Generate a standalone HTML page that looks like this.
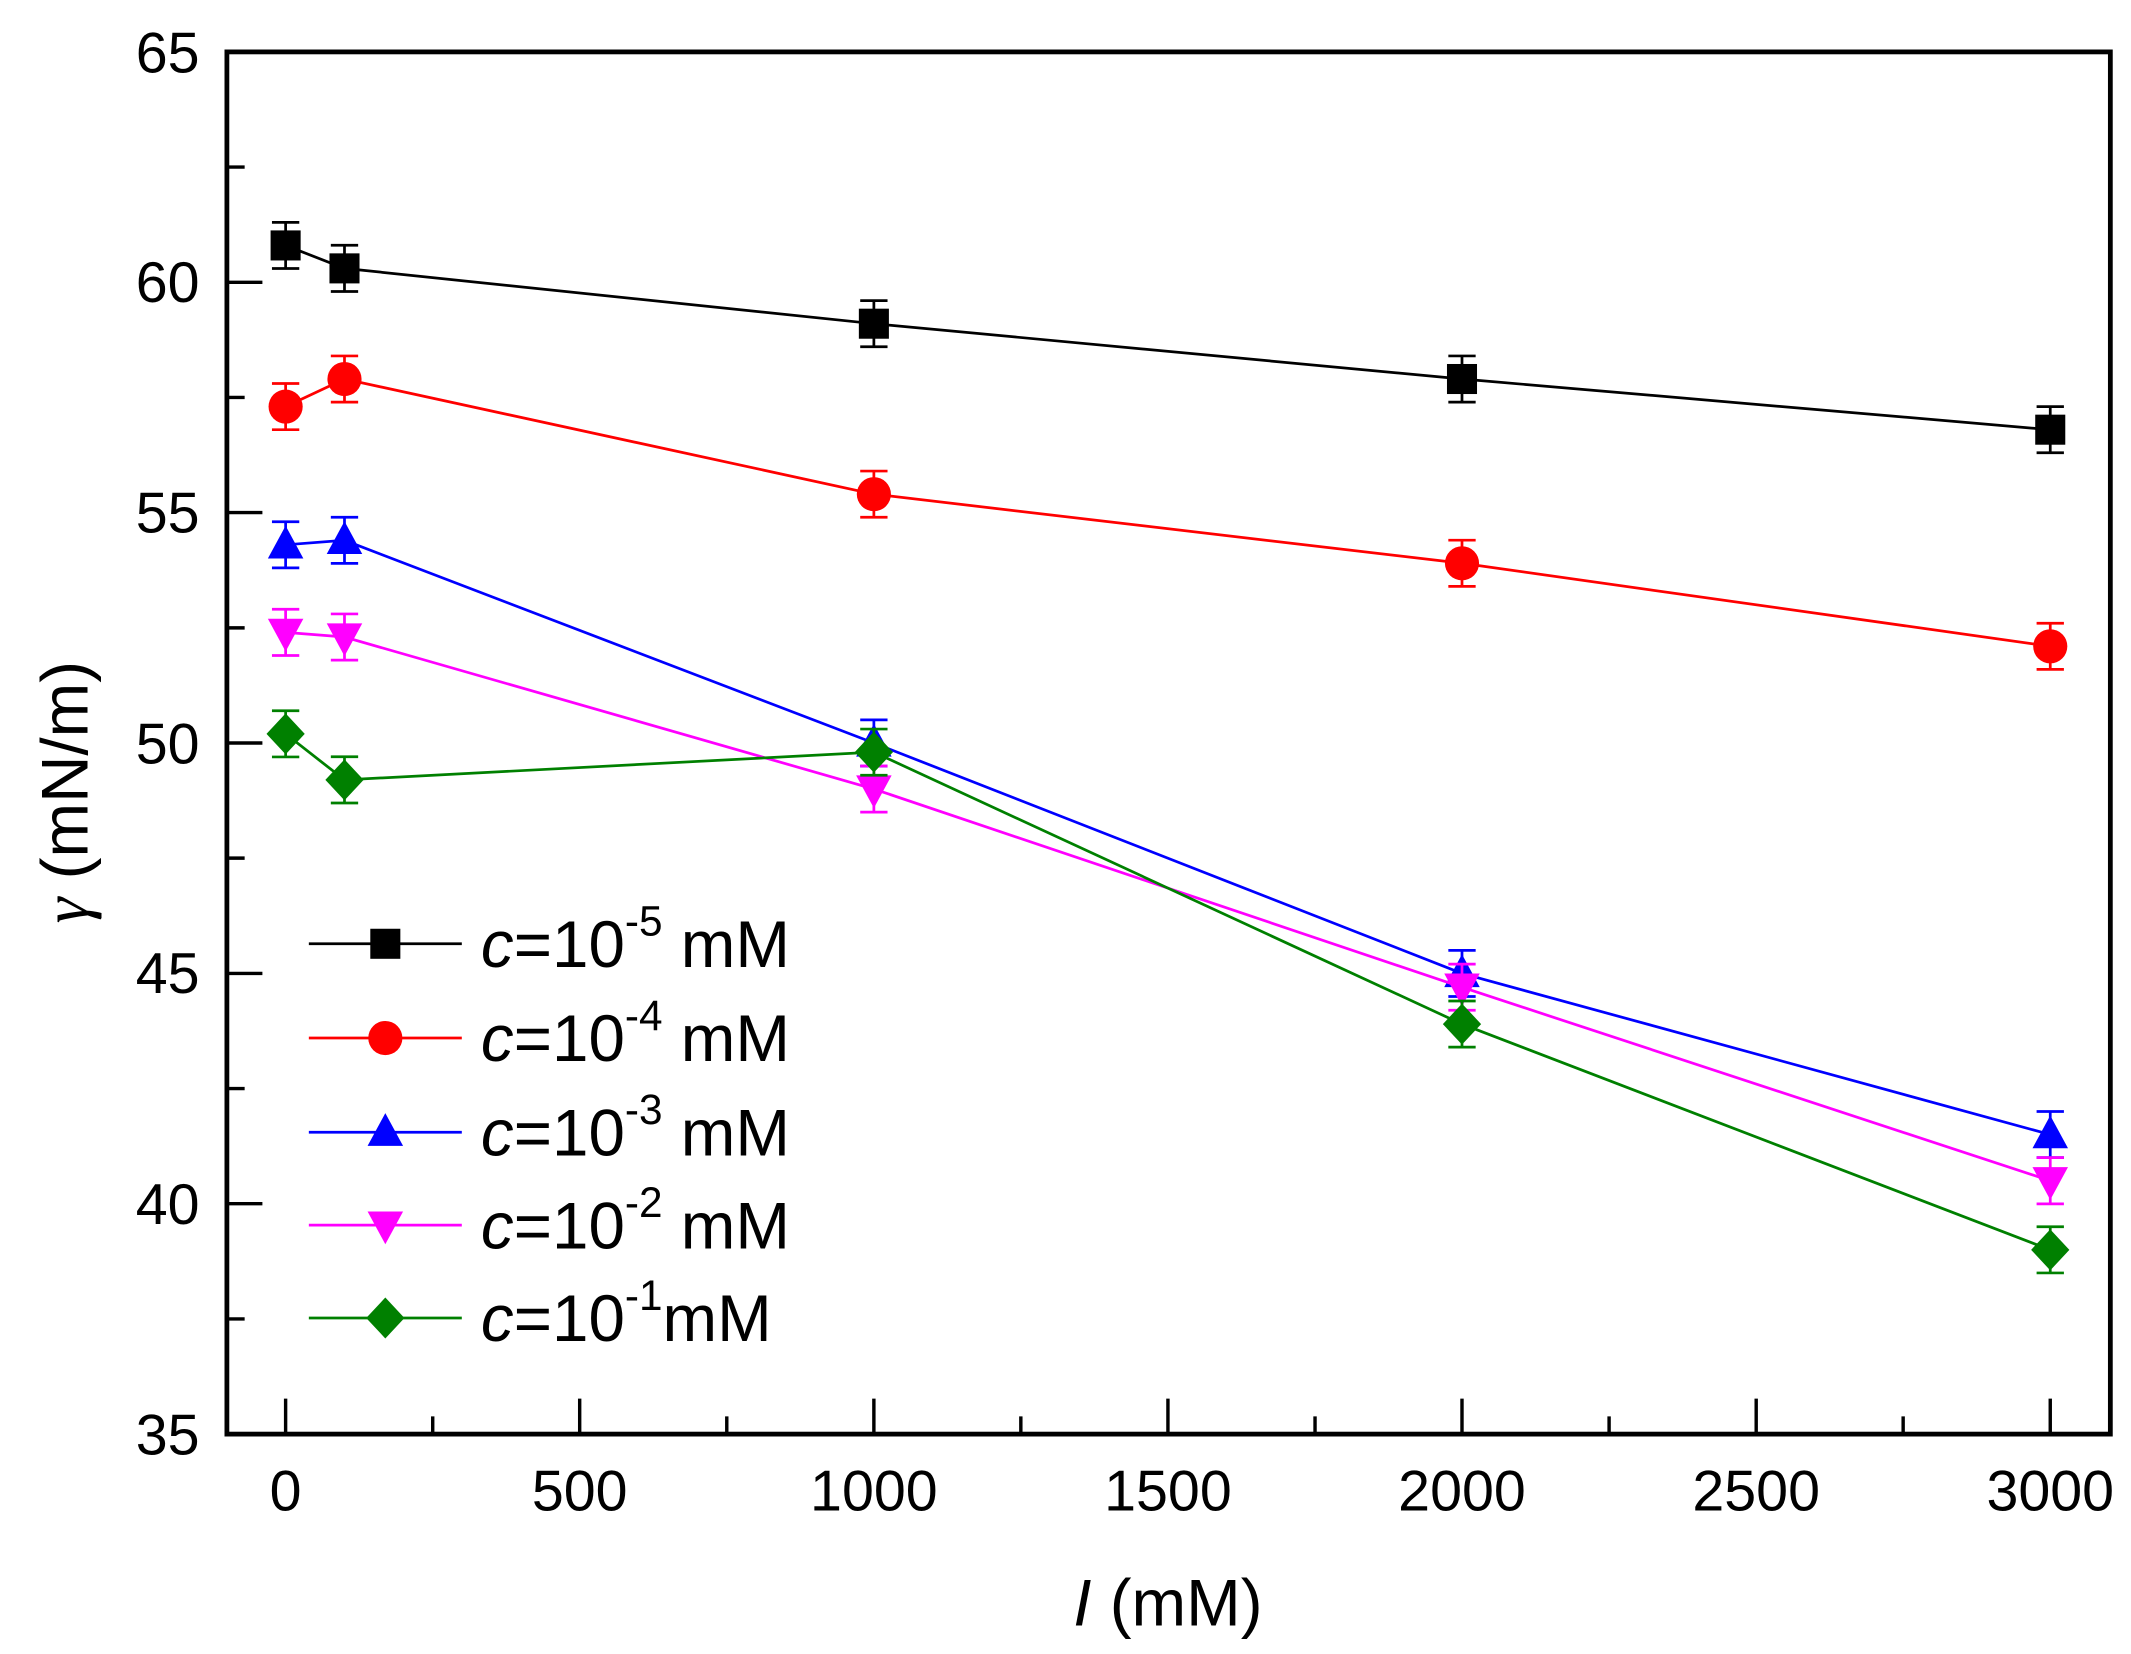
<!DOCTYPE html>
<html><head><meta charset="utf-8"><style>html,body{margin:0;padding:0;background:#fff}svg{display:block}</style></head>
<body>
<svg width="2131" height="1654" viewBox="0 0 1560 1211" xmlns="http://www.w3.org/2000/svg" font-family="Liberation Sans, Arial, sans-serif">
<defs>
<rect id="sq" x="-11" y="-11" width="22" height="22"/>
<circle id="ci" r="12.5"/>
<path id="tu" d="M0,-14 L13,10 L-13,10 Z"/>
<path id="td" d="M0,14 L13,-10 L-13,-10 Z"/>
<path id="di" d="M0,-15 L14,0 L0,15 L-14,0 Z"/>
</defs>
<rect x="166" y="38" width="1379" height="1012" fill="none" stroke="#000" stroke-width="3.5"/>
<g stroke="#000" stroke-width="2.5">
<path d="M166,881.3h26M166,712.7h26M166,544h26M166,375.3h26M166,206.7h26"/>
<path d="M166,965.7h13M166,797h13M166,628.3h13M166,459.7h13M166,291h13M166,122.3h13"/>
<path d="M209,1050v-26M424.3,1050v-26M639.7,1050v-26M855,1050v-26M1070.3,1050v-26M1285.7,1050v-26M1501,1050v-26"/>
<path d="M316.7,1050v-13M532,1050v-13M747.3,1050v-13M962.7,1050v-13M1178,1050v-13M1393.3,1050v-13"/>
</g>
<g font-size="42" text-anchor="end" fill="#000">
<text x="146" y="1065">35</text><text x="146" y="896">40</text><text x="146" y="727">45</text><text x="146" y="559">50</text><text x="146" y="390">55</text><text x="146" y="221">60</text><text x="146" y="53">65</text>
</g>
<g font-size="42" text-anchor="middle" fill="#000">
<text x="209" y="1106">0</text><text x="424.3" y="1106">500</text><text x="639.7" y="1106">1000</text><text x="855" y="1106">1500</text><text x="1070.3" y="1106">2000</text><text x="1285.7" y="1106">2500</text><text x="1501" y="1106">3000</text>
</g>
<text x="855" y="1190" font-size="48" text-anchor="middle"><tspan font-style="italic">I</tspan> (mM)</text>
<text transform="translate(64,580) rotate(-90)" font-size="48" text-anchor="middle"><tspan font-family="Liberation Serif, serif" font-style="italic">γ</tspan> (mN/m)</text>

<g stroke="#000" fill="#000">
<polyline fill="none" stroke-width="2" points="209,179.7 252.1,196.5 639.7,237 1070.3,277.5 1501,314.6"/>
<g stroke-width="2" fill="none">
<path d="M209,162.8v33.8M199,162.8h20M199,196.6h20"/>
<path d="M252.1,179.6v33.8M242.1,179.6h20M242.1,213.4h20"/>
<path d="M639.7,220.1v33.8M629.7,220.1h20M629.7,253.9h20"/>
<path d="M1070.3,260.6v33.8M1060.3,260.6h20M1060.3,294.4h20"/>
<path d="M1501,297.7v33.8M1491,297.7h20M1491,331.5h20"/>
</g>
<g stroke="none"><use href="#sq" x="209" y="179.7"/><use href="#sq" x="252.1" y="196.5"/><use href="#sq" x="639.7" y="237"/><use href="#sq" x="1070.3" y="277.5"/><use href="#sq" x="1501" y="314.6"/></g>
</g>
<g stroke="#f00" fill="#f00">
<polyline fill="none" stroke-width="2" points="209,297.7 252.1,277.5 639.7,361.8 1070.3,412.4 1501,473.2"/>
<g stroke-width="2" fill="none">
<path d="M209,280.8v33.8M199,280.8h20M199,314.6h20"/>
<path d="M252.1,260.6v33.8M242.1,260.6h20M242.1,294.4h20"/>
<path d="M639.7,344.9v33.8M629.7,344.9h20M629.7,378.7h20"/>
<path d="M1070.3,395.5v33.8M1060.3,395.5h20M1060.3,429.3h20"/>
<path d="M1501,456.3v33.8M1491,456.3h20M1491,490.1h20"/>
</g>
<g stroke="none"><use href="#ci" x="209" y="297.7"/><use href="#ci" x="252.1" y="277.5"/><use href="#ci" x="639.7" y="361.8"/><use href="#ci" x="1070.3" y="412.4"/><use href="#ci" x="1501" y="473.2"/></g>
</g>
<g stroke="#00f" fill="#00f">
<polyline fill="none" stroke-width="2" points="209,398.9 252.1,395.6 639.7,544 1070.3,712.7 1501,830.7"/>
<g stroke-width="2" fill="none">
<path d="M209,382v33.8M199,382h20M199,415.8h20"/>
<path d="M252.1,378.7v33.8M242.1,378.7h20M242.1,412.5h20"/>
<path d="M639.7,527.1v33.8M629.7,527.1h20M629.7,560.9h20"/>
<path d="M1070.3,695.8v33.8M1060.3,695.8h20M1060.3,729.6h20"/>
<path d="M1501,813.8v33.8M1491,813.8h20M1491,847.6h20"/>
</g>
<g stroke="none"><use href="#tu" x="209" y="398.9"/><use href="#tu" x="252.1" y="395.6"/><use href="#tu" x="639.7" y="544"/><use href="#tu" x="1070.3" y="712.7"/><use href="#tu" x="1501" y="830.7"/></g>
</g>
<g stroke="#f0f" fill="#f0f">
<polyline fill="none" stroke-width="2" points="209,463 252.1,466.4 639.7,577.7 1070.3,722.8 1501,864.5"/>
<g stroke-width="2" fill="none">
<path d="M209,446.1v33.8M199,446.1h20M199,479.9h20"/>
<path d="M252.1,449.5v33.8M242.1,449.5h20M242.1,483.3h20"/>
<path d="M639.7,560.8v33.8M629.7,560.8h20M629.7,594.6h20"/>
<path d="M1070.3,705.9v33.8M1060.3,705.9h20M1060.3,739.7h20"/>
<path d="M1501,847.6v33.8M1491,847.6h20M1491,881.4h20"/>
</g>
<g stroke="none"><use href="#td" x="209" y="463"/><use href="#td" x="252.1" y="466.4"/><use href="#td" x="639.7" y="577.7"/><use href="#td" x="1070.3" y="722.8"/><use href="#td" x="1501" y="864.5"/></g>
</g>
<g stroke="#008000" fill="#008000">
<polyline fill="none" stroke-width="2" points="209,537.3 252.1,571 639.7,550.7 1070.3,749.8 1501,915.1"/>
<g stroke-width="2" fill="none">
<path d="M209,520.4v33.8M199,520.4h20M199,554.2h20"/>
<path d="M252.1,554.1v33.8M242.1,554.1h20M242.1,587.9h20"/>
<path d="M639.7,533.8v33.8M629.7,533.8h20M629.7,567.6h20"/>
<path d="M1070.3,732.9v33.8M1060.3,732.9h20M1060.3,766.7h20"/>
<path d="M1501,898.2v33.8M1491,898.2h20M1491,932h20"/>
</g>
<g stroke="none"><use href="#di" x="209" y="537.3"/><use href="#di" x="252.1" y="571"/><use href="#di" x="639.7" y="550.7"/><use href="#di" x="1070.3" y="749.8"/><use href="#di" x="1501" y="915.1"/></g>
</g>

<g stroke-width="2">
<path d="M226,691h112" stroke="#000"/><use href="#sq" x="282" y="691" fill="#000"/>
<path d="M226,760h112" stroke="#f00"/><use href="#ci" x="282" y="760" fill="#f00"/>
<path d="M226,829h112" stroke="#00f"/><use href="#tu" x="282" y="829" fill="#00f"/>
<path d="M226,897h112" stroke="#f0f"/><use href="#td" x="282" y="897" fill="#f0f"/>
<path d="M226,965h112" stroke="#008000"/><use href="#di" x="282" y="965" fill="#008000"/>
</g>
<g font-size="48" fill="#000">
<text x="352" y="708"><tspan font-style="italic">c</tspan>=10<tspan font-size="31" dy="-23">-5</tspan><tspan dy="23"> mM</tspan></text>
<text x="352" y="777"><tspan font-style="italic">c</tspan>=10<tspan font-size="31" dy="-23">-4</tspan><tspan dy="23"> mM</tspan></text>
<text x="352" y="846"><tspan font-style="italic">c</tspan>=10<tspan font-size="31" dy="-23">-3</tspan><tspan dy="23"> mM</tspan></text>
<text x="352" y="914"><tspan font-style="italic">c</tspan>=10<tspan font-size="31" dy="-23">-2</tspan><tspan dy="23"> mM</tspan></text>
<text x="352" y="982"><tspan font-style="italic">c</tspan>=10<tspan font-size="31" dy="-23">-1</tspan><tspan dy="23">mM</tspan></text>
</g>
</svg>
</body></html>
